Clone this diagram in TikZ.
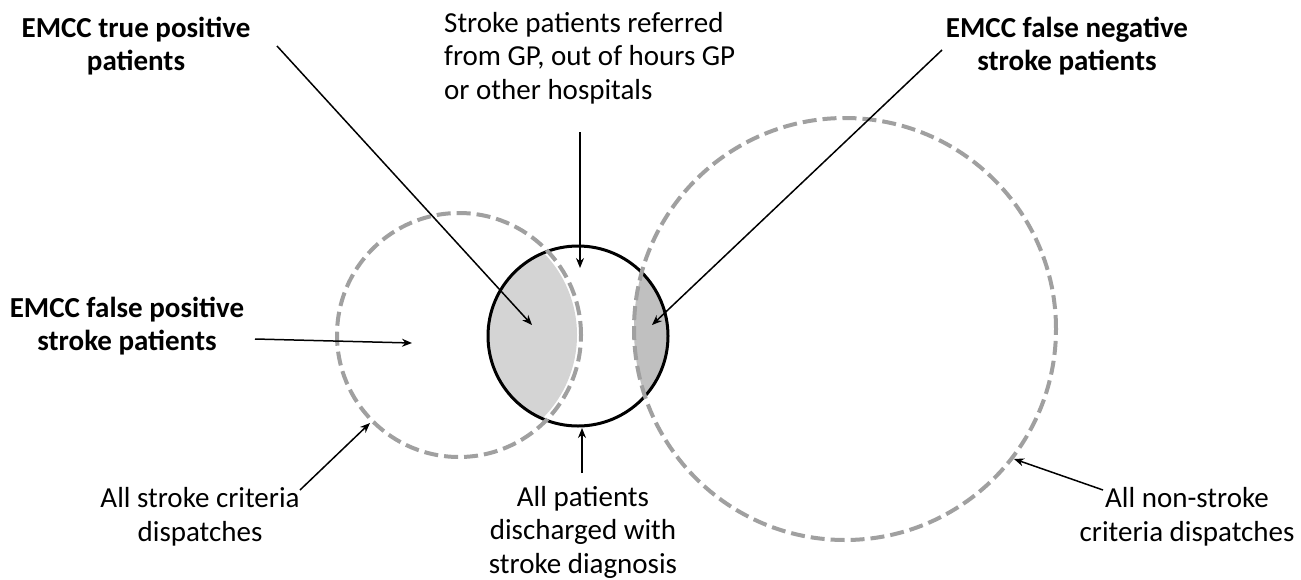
\documentclass[tikz,border=0pt]{standalone}
\usepackage{fontspec}
\setmainfont{Carlito}
\usetikzlibrary{arrows.meta}
\definecolor{dashgray}{HTML}{A0A0A0}
\definecolor{lightg}{HTML}{D4D4D4}
\definecolor{darkg}{HTML}{C0C0C0}
\begin{document}
\begin{tikzpicture}[x=1pt,y=-1pt,
  lbl/.style={font=\fontsize{29}{33.5}\selectfont, align=center, inner sep=0pt},
  blbl/.style={lbl, font=\fontsize{29}{33.5}\selectfont\bfseries},
  arr/.style={-{Stealth[length=10pt,width=8pt]}, line width=1.5pt, black},
  dashcirc/.style={circle, inner sep=0pt, draw=dashgray, line width=4pt, dash pattern=on 14pt off 6pt},
  solidcirc/.style={circle, inner sep=0pt, draw=black, line width=3pt}
]
\useasboundingbox (0,0) rectangle (1301,579);
\fill[white] (0,0) rectangle (1301,579);

% shaded intersections
\coordinate (cL) at (459,335);
\coordinate (cB) at (578,336);
\coordinate (cR) at (845,329);
\begin{scope}
  \clip (cB) circle[radius=90pt];
  \fill[lightg] (cL) circle[radius=118pt];
  \fill[darkg] (cR) circle[radius=211pt];
\end{scope}

% circles
\node[solidcirc, minimum size=180pt] (B) at (cB) {};
\node[dashcirc, minimum size=244pt] (L) at (cL) {};
\node[dashcirc, minimum size=422pt] (R) at (cR) {};

% labels
\node[blbl] (tp) at (136,46) {EMCC true positive\\patients};
\node[lbl, align=left, anchor=west] (ref) at (444,58) {Stroke patients referred\\from GP, out of hours GP\\or other hospitals};
\node[blbl] (fn) at (1067,46) {EMCC false negative\\stroke patients};
\node[blbl] (fp) at (127,326) {EMCC false positive\\stroke patients};
\node[lbl] (sc) at (200,517) {All stroke criteria\\dispatches};
\node[lbl] (dis) at (583,532) {All patients\\discharged with\\stroke diagnosis};
\node[lbl] (ns) at (1187,517) {All non-stroke\\criteria dispatches};

% arrow end points
\coordinate (a1s) at (277,46);   \coordinate (a1e) at (532,325);
\coordinate (a2s) at (580,132);  \coordinate (a2e) at (580,268);
\coordinate (a3s) at (942,50);   \coordinate (a3e) at (652,325);
\coordinate (a4s) at (255,339);  \coordinate (a4e) at (412,343);
\coordinate (a5s) at (300,490);  \coordinate (a5e) at (370,423);
\coordinate (a6s) at (582,473);  \coordinate (a6e) at (582,428);
\coordinate (a7s) at (1103,490); \coordinate (a7e) at (1014,459);

\draw[arr] (a1s) -- (a1e);
\draw[arr] (a2s) -- (a2e);
\draw[arr] (a3s) -- (a3e);
\draw[arr] (a4s) -- (a4e);
\draw[arr] (a5s) -- (a5e);
\draw[arr] (a6s) -- (a6e);
\draw[arr] (a7s) -- (a7e);
\end{tikzpicture}
\end{document}
